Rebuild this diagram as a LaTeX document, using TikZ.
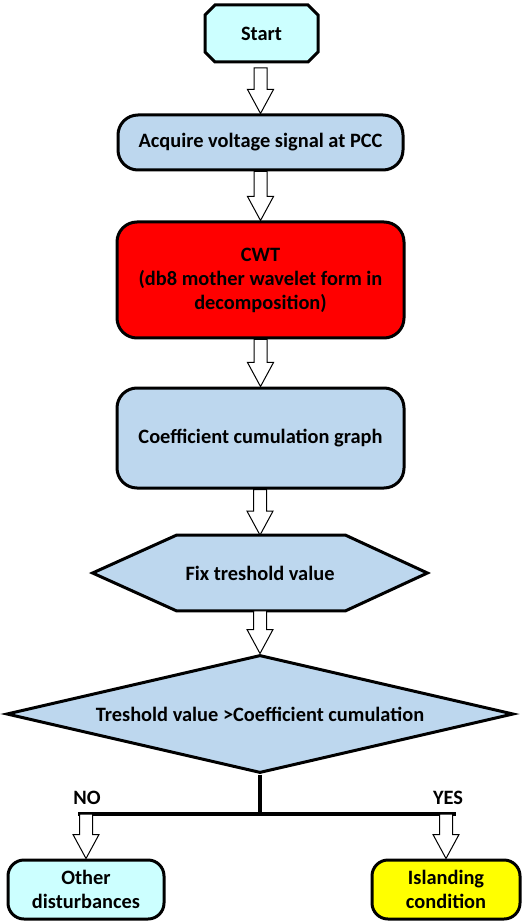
\documentclass[tikz,border=0pt]{standalone}
\usepackage{fontspec}
\setmainfont{Carlito}
\usetikzlibrary{
  calc,             % 坐标计算
  shapes.geometric, % 菱形判断框
  shapes.misc,      % 切角矩形（开始框）
  backgrounds       % 六边形底色放在文字下面
}
\definecolor{boxblue}{RGB}{189,215,238}
\definecolor{boxcyan}{RGB}{204,255,255}
\definecolor{boxred}{RGB}{255,0,0}
\definecolor{boxyellow}{RGB}{255,255,0}

\tikzset{
  flowbox/.style={draw, line width=1.5pt, rounded corners=10pt, align=center,
    inner sep=2pt, font=\fontsize{10.2}{12}\selectfont\bfseries},
  endbox/.style={flowbox, rounded corners=8pt, minimum height=29.5pt},
  arrowline/.style={draw, line width=0.5pt, fill=white, line join=miter},
  branch/.style={line width=2pt},
  tag/.style={font=\fontsize{10.2}{12}\selectfont\bfseries}
}

% 空心块状箭头：箭身宽 13，箭头宽 26，箭头长 24（单位：像素）
\newcommand{\blockarrow}[2]{%
  \draw[arrowline] ($(#2|-#1)+(-6.5,0)$) -- ($(#2)+(-6.5,-24)$)
    -- ($(#2)+(-13,-24)$) -- (#2) -- ($(#2)+(13,-24)$)
    -- ($(#2)+(6.5,-24)$) -- ($(#2|-#1)+(6.5,0)$) -- cycle;}

\begin{document}
\begin{tikzpicture}[x=0.5pt, y=-0.5pt]
  \useasboundingbox (0,0) rectangle (522,924);

  % 流程主干
  \node[flowbox, chamfered rectangle, rounded corners=0pt,
    chamfered rectangle xsep=2.5pt, chamfered rectangle ysep=2.5pt,
    fill=boxcyan, minimum width=56.5pt, minimum height=28.5pt]
    (start) at (261.5,33.5) {Start};
  \node[flowbox, fill=boxblue, minimum width=142.5pt, minimum height=27.5pt]
    (acquire) at (260.5,142.5) {Acquire voltage signal at PCC};
  \node[flowbox, fill=boxred, minimum width=143.5pt, minimum height=58pt]
    (cwt) at (260.5,280) {CWT\\(db8 mother wavelet form in\\decomposition)};
  \node[flowbox, fill=boxblue, minimum width=143.5pt, minimum height=50pt]
    (coeff) at (260.5,438) {Coefficient cumulation graph};

  % 六边形：阈值设定
  \node[tag, minimum width=167pt, minimum height=37.5pt]
    (fix) at (260,573) {Fix treshold value};
  \begin{scope}[on background layer]
    \draw[line width=1.5pt, fill=boxblue, line join=miter]
      (fix.west) -- ($(fix.north west)+(84,0)$) -- ($(fix.north east)+(-82,0)$)
      -- (fix.east) -- ($(fix.south east)+(-82,0)$)
      -- ($(fix.south west)+(84,0)$) -- cycle;
  \end{scope}

  % 判断框
  \node[flowbox, diamond, rounded corners=0pt, fill=boxblue, inner sep=0pt,
    shape aspect=4.3, minimum width=253.5pt, minimum height=59pt]
    (decide) at (260,714) {Treshold value >Coefficient cumulation};

  % 两个结果
  \node[endbox, fill=boxcyan, minimum width=78pt]
    (other) at (86,889.5) {Other\\disturbances};
  \node[endbox, fill=boxyellow, minimum width=74pt]
    (island) at (446,889.5) {Islanding\\condition};

  % 分支横线
  \coordinate (noL) at (78,814);
  \coordinate (yesR) at (456,814);
  \draw[branch] (decide.south) -- (decide.south |- noL);
  \draw[branch, line width=1.7pt] (noL) -- (yesR);
  \node[tag] (no) at (87,798) {NO};
  \node[tag] (yes) at (448,798) {YES};

  % 块状箭头
  \coordinate (s0) at (261,68);
  \blockarrow{s0}{acquire.north}
  \blockarrow{acquire.south}{cwt.north}
  \blockarrow{cwt.south}{coeff.north}
  \blockarrow{coeff.south}{fix.north}
  \blockarrow{fix.south}{decide.north}
  \blockarrow{noL}{other.north}
  \blockarrow{yesR}{island.north}
\end{tikzpicture}
\end{document}
